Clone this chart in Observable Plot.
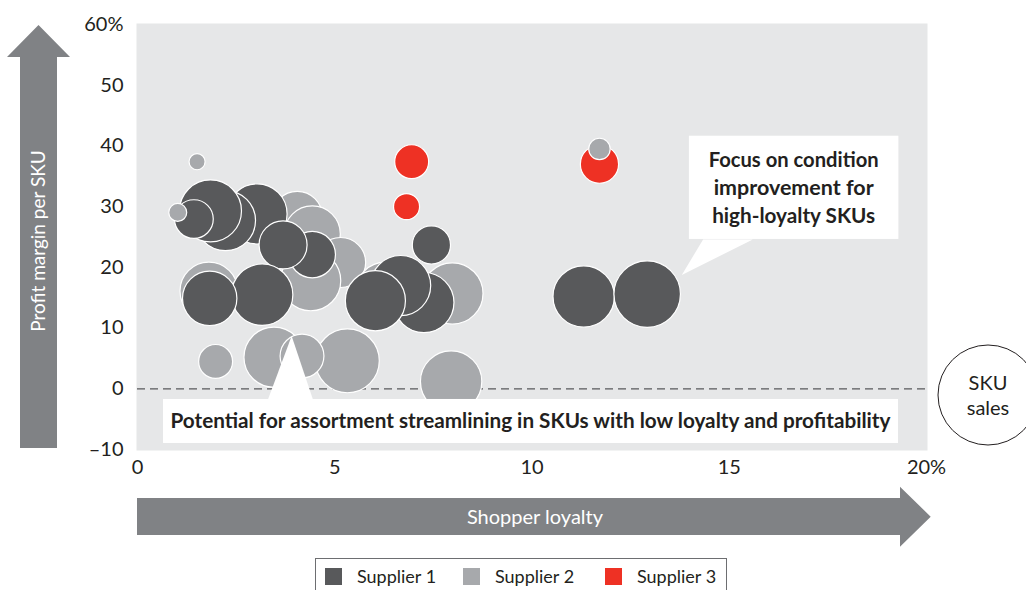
<!DOCTYPE html>
<html><head><meta charset="utf-8">
<script src="https://cdn.jsdelivr.net/npm/d3@7"></script>
<script src="https://cdn.jsdelivr.net/npm/@observablehq/plot@0.6"></script>
<style>
body{margin:0;background:#fff;}
#chart{position:relative;width:1026px;height:590px;overflow:hidden;}
</style></head><body><div id="chart"></div>
<script>
// ---- data (drawing order: back to front) ----
const supplierIds = [2,2,2,2,2,2,2, 1,1,1,1,2, 1,1,1,1, 1,1,1,1, 1,1, 2,2,2,2,2,2, 3,3,3,2];
const loyalty     = [4.05,4.43,5.15,4.39,1.81,6.29,7.98, 3.03,2.23,1.85,1.43,1.02, 4.43,3.69,3.16,1.83, 7.26,6.67,6.03,7.45, 11.31,12.92, 1.98,5.32,3.46,4.17,7.95,1.51, 6.95,6.82,11.71,11.71];
const margin      = [28.4,25.5,20.8,17.8,16.1,15.9,15.7, 28.8,27.7,29.3,27.95,29.05, 22.1,23.7,15.5,14.9, 14.2,17.0,14.5,23.7, 15.2,15.6, 4.5,4.6,5.2,5.4,1.2,37.4, 37.4,30.0,37.0,39.5];
const skuSales    = [65,82,65,94,87,94,98, 94,94,100,39,8.4, 56,60,98,77, 94,94,94,38, 98,115, 30,106,94,50,98,6.7, 30,17.6,38,12];

const suppliers = ["Supplier 1","Supplier 2","Supplier 3"];
const supplierColors = ["#58595b","#a7a9ac","#ee3124"];

const xTicks = [0,5,10,15,20];
const xTickLabels = ["0","5","10","15","20%"];
const yTicks = [-10,0,10,20,30,40,50,60];
const yTickLabels = ["–10","0","10","20","30","40","50","60%"];

const yAxisTitle = "Profit margin per SKU";
const xAxisTitle = "Shopper loyalty";
const sizeTitle = ["SKU","sales"];

// callouts anchored in data space
const callouts = [
  {lines:["Focus on condition","improvement for","high-loyalty SKUs"], box:[13.99,19.30,41.6,24.6], base:[14.35,15.61], tip:[13.81,18.66], size:21, lens:[170,160,163]},
  {lines:["Potential for assortment streamlining in SKUs with low loyalty and profitability"], box:[0.66,19.29,-1.76,-9.01], base:[3.32,4.46], tip:[3.92,8.61], size:20, lens:[720]}
];

const data = supplierIds.map((s,i)=>({supplier:suppliers[s-1], loyalty:loyalty[i], margin:margin[i], sales:skuSales[i]}));

const FONT = "Lato, 'Open Sans', sans-serif";
const INK = "#231f20";
const ARROW = "#808285";

const plot = Plot.plot({
  width:1026, height:590,
  marginLeft:137, marginRight:100, marginTop:24, marginBottom:141,
  style:{fontFamily:FONT, fontSize:"20px", color:INK, background:"transparent", overflow:"visible"},
  x:{domain:[0,20], label:null},
  y:{domain:[-10,60], label:null},
  r:{type:"sqrt", domain:[0,100], range:[0,31]},
  color:{domain:suppliers, range:supplierColors},
  marks:[
    Plot.frame({fill:"#e6e7e8", stroke:null, inset:-1}),
    Plot.ruleY([0], {stroke:"#58595b", strokeWidth:1.3, strokeDasharray:"8,5"}),
    Plot.dot(data, {x:"loyalty", y:"margin", r:"sales", fill:"supplier", fillOpacity:1, stroke:"white", strokeWidth:1.2, sort:null}),
    Plot.axisX({ticks:xTicks, tickFormat:d=>xTickLabels[xTicks.indexOf(d)], tickSize:0, tickPadding:10, label:null, fill:INK}),
    Plot.axisY({ticks:yTicks, tickFormat:d=>yTickLabels[yTicks.indexOf(d)], tickSize:0, tickPadding:14, label:null, fill:INK})
  ]
});
document.getElementById("chart").appendChild(plot);

const sx = plot.scale("x"), sy = plot.scale("y");
const X = v=>sx.apply(v), Y = v=>sy.apply(v);
const svg = d3.select(plot);
const deco = svg.append("g").attr("font-family", FONT);

// callouts
for (const c of callouts) {
  const g = deco.append("g");
  const [x1,x2,y1,y2] = c.box;
  g.append("rect").attr("x",X(x1)).attr("y",Y(y1)).attr("width",X(x2)-X(x1)).attr("height",Y(y2)-Y(y1)).attr("fill","white");
  const by = (Math.abs(Y(c.tip[1])-Y(y1)) < Math.abs(Y(c.tip[1])-Y(y2))) ? Y(y1) : Y(y2);
  g.append("polygon").attr("points",[[X(c.base[0]),by+0.5],[X(c.base[1]),by+0.5],[X(c.tip[0]),Y(c.tip[1])]].map(p=>p.join(",")).join(" ")).attr("fill","white");
  const cx = (X(x1)+X(x2))/2, cy = (Y(y1)+Y(y2))/2, lh = 28;
  c.lines.forEach((t,i)=>{
    g.append("text").attr("x",cx).attr("y",cy+(i-(c.lines.length-1)/2)*lh).attr("dy","0.35em")
      .attr("text-anchor","middle").attr("font-weight","700").attr("font-size",c.size).attr("fill",INK)
      .attr("textLength",c.lens[i]).attr("lengthAdjust","spacingAndGlyphs").text(t);
  });
}

// y axis arrow
deco.append("polygon").attr("points","20,448 57,448 57,57 70,57 38.5,25 7,57 20,57").attr("fill",ARROW);
deco.append("text").attr("transform","translate(38.5,241) rotate(-90)").attr("text-anchor","middle").attr("dy","0.35em")
  .attr("font-size",19).attr("fill","white").text(yAxisTitle);
// x axis arrow
deco.append("polygon").attr("points","137,498 900,498 900,486.7 930.7,516.7 900,546.7 900,535 137,535").attr("fill",ARROW);
deco.append("text").attr("x",535).attr("y",517).attr("text-anchor","middle").attr("dy","0.35em")
  .attr("font-size",20).attr("fill","white").text(xAxisTitle);

// size key
deco.append("circle").attr("cx",988).attr("cy",395).attr("r",50).attr("fill","white").attr("stroke",INK).attr("stroke-width",1);
sizeTitle.forEach((t,i)=>deco.append("text").attr("x",988).attr("y",383+i*25).attr("dy","0.35em").attr("text-anchor","middle")
  .attr("font-size",20).attr("fill",INK).text(t));

// legend
const lg = deco.append("g");
lg.append("rect").attr("x",315.5).attr("y",558.5).attr("width",411).attr("height",40).attr("fill","white").attr("stroke","#6d6e71");
const legX = [325,463,605];
suppliers.forEach((s,i)=>{
  lg.append("rect").attr("x",legX[i]).attr("y",568).attr("width",17).attr("height",17).attr("fill",supplierColors[i]);
  lg.append("text").attr("x",legX[i]+32).attr("y",577).attr("dy","0.35em").attr("text-anchor","start").attr("font-size",18).attr("fill",INK).text(s);
});
</script></body></html>
